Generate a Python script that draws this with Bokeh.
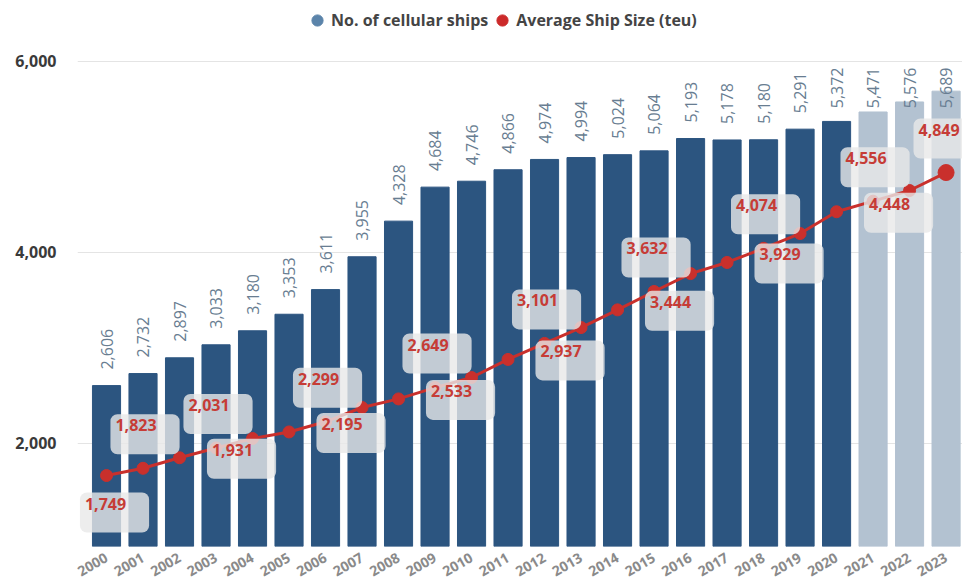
import math
from bokeh.plotting import figure
from bokeh.models import (Range1d, FixedTicker, NumeralTickFormatter, ColumnDataSource,
                          Legend, LegendItem)
from bokeh.embed import file_html
from bokeh.resources import INLINE
from bokeh.core.properties import value

# ---------------- data ----------------
years = [str(y) for y in range(2000, 2024)]
ships = [2606, 2732, 2897, 3033, 3180, 3353, 3611, 3955, 4328, 4684, 4746, 4866,
         4974, 4994, 5024, 5064, 5193, 5178, 5180, 5291, 5372, 5471, 5576, 5689]
avg_size = [1749, 1823, 1931, 2031, 2128, 2195, 2299, 2445, 2533, 2649, 2752, 2937,
            3101, 3263, 3444, 3632, 3815, 3929, 4074, 4225, 4448, 4556, 4665, 4849]
forecast_years = ["2021", "2022", "2023"]
# years whose average-size value carries a data label, and where the label sits
label_below = ["2000"]
label_right = ["2002", "2005", "2008", "2011", "2014", "2017", "2020"]
label_above = ["2001", "2003", "2006", "2009", "2012", "2015", "2018", "2021", "2023"]
y_ticks = [2000, 4000, 6000]

# ---------------- style ----------------
FONT = "Open Sans"
BAR_DARK = "#2c5580"
BAR_LIGHT = "#b3c2d1"
RED = "#c9302c"
LABEL_RED = "#c63c36"

idx = list(range(len(years)))

p = figure(width=962, height=585, output_backend="svg", toolbar_location=None,
           x_range=Range1d(-0.795, 23.45), y_range=Range1d(921, 6586),
           min_border_left=77, min_border_right=0, min_border_top=5,
           min_border_bottom=39)
p.extra_y_ranges = {"avg": Range1d(1023, 6558)}
p.outline_line_color = None
p.background_fill_color = "white"
p.border_fill_color = "white"

# bars
colors = [BAR_LIGHT if y in forecast_years else BAR_DARK for y in years]
bar_src = ColumnDataSource(dict(x=idx, top=ships, color=colors))
p.vbar(x="x", top="top", bottom=0, width=0.77, color="color", source=bar_src)

# bar value labels (vertical), pushed down when they would leave the value area
gap_units = 168
text_units = 530
top_cap = 6040
bar_lab_y = [min(v + gap_units, top_cap - text_units) for v in ships]
p.text(x=idx, y=bar_lab_y, text=[f"{v:,}" for v in ships], angle=math.pi / 2,
       text_align="left", text_baseline="middle", text_font=value(FONT),
       text_font_size="16px", text_color="#687d91")

# line
sizes = [12] * (len(years) - 1) + [16]
p.line(idx, avg_size, y_range_name="avg", line_color=RED, line_width=3)
p.scatter(idx, avg_size, y_range_name="avg", size=sizes, color=RED)

# line labels
lx, ly, lt, xo, yo = [], [], [], [], []
for y in years:
    i = years.index(y)
    if y in label_below:
        off = (8, 37)
    elif y in label_right:
        off = (62, 1)
    elif y in label_above:
        off = (2, -34)
    else:
        continue
    lx.append(i)
    ly.append(avg_size[i])
    lt.append(f"{avg_size[i]:,}")
    xo.append(off[0])
    yo.append(off[1])
lab_src = ColumnDataSource(dict(x=lx, y=ly, text=lt, xo=xo, yo=yo))
p.text(x="x", y="y", text="text", x_offset="xo", y_offset="yo", source=lab_src,
       y_range_name="avg", text_align="center", text_baseline="middle",
       text_font=value(FONT), text_font_style="bold", text_font_size="16px",
       text_color=LABEL_RED, background_fill_color="#e9e9e9",
       background_fill_alpha=0.8, border_radius=7, padding=(5, 23, 5, 23))

# legend (circle markers)
nan = float("nan")
r1 = p.scatter(x=[nan], y=[nan], size=14, color="#5b84aa")
r2 = p.scatter(x=[nan], y=[nan], size=14, color="#cc2a2a")
legend = Legend(items=[LegendItem(label="No. of cellular ships", renderers=[r1]),
                       LegendItem(label="Average Ship Size (teu)", renderers=[r2])],
                orientation="horizontal", location=(226, 512),
                label_text_font=FONT, label_text_font_style="bold",
                label_text_font_size="16px", label_text_color="#444444",
                glyph_width=28, glyph_height=28, spacing=0, label_standoff=0,
                padding=0, margin=0, border_line_color=None,
                background_fill_alpha=0)
p.add_layout(legend, "center")

# y axis
p.yaxis.ticker = FixedTicker(ticks=y_ticks)
p.yaxis.formatter = NumeralTickFormatter(format="0,0")
p.yaxis.axis_line_color = None
p.yaxis.major_tick_line_color = None
p.yaxis.minor_tick_line_color = None
p.yaxis.major_label_text_font = FONT
p.yaxis.major_label_text_font_size = "16px"
p.yaxis.major_label_text_font_style = "bold"
p.yaxis.major_label_text_color = "#3a3a3a"
p.yaxis.major_label_standoff = 15
p.ygrid.ticker = FixedTicker(ticks=y_ticks)
p.ygrid.grid_line_color = "#e4e4e4"
p.xgrid.grid_line_color = None

# x axis
p.xaxis.ticker = FixedTicker(ticks=idx)
p.xaxis.major_label_overrides = {i: y for i, y in enumerate(years)}
p.xaxis.major_label_orientation = 0.52
p.xaxis.axis_line_color = None
p.xaxis.major_tick_line_color = None
p.xaxis.minor_tick_line_color = None
p.xaxis.major_label_text_font = FONT
p.xaxis.major_label_text_font_size = "14px"
p.xaxis.major_label_text_font_style = "bold"
p.xaxis.major_label_text_color = "#8a8a8a"
p.xaxis.major_label_standoff = 4

open("out.html", "w").write(file_html(p, INLINE))
